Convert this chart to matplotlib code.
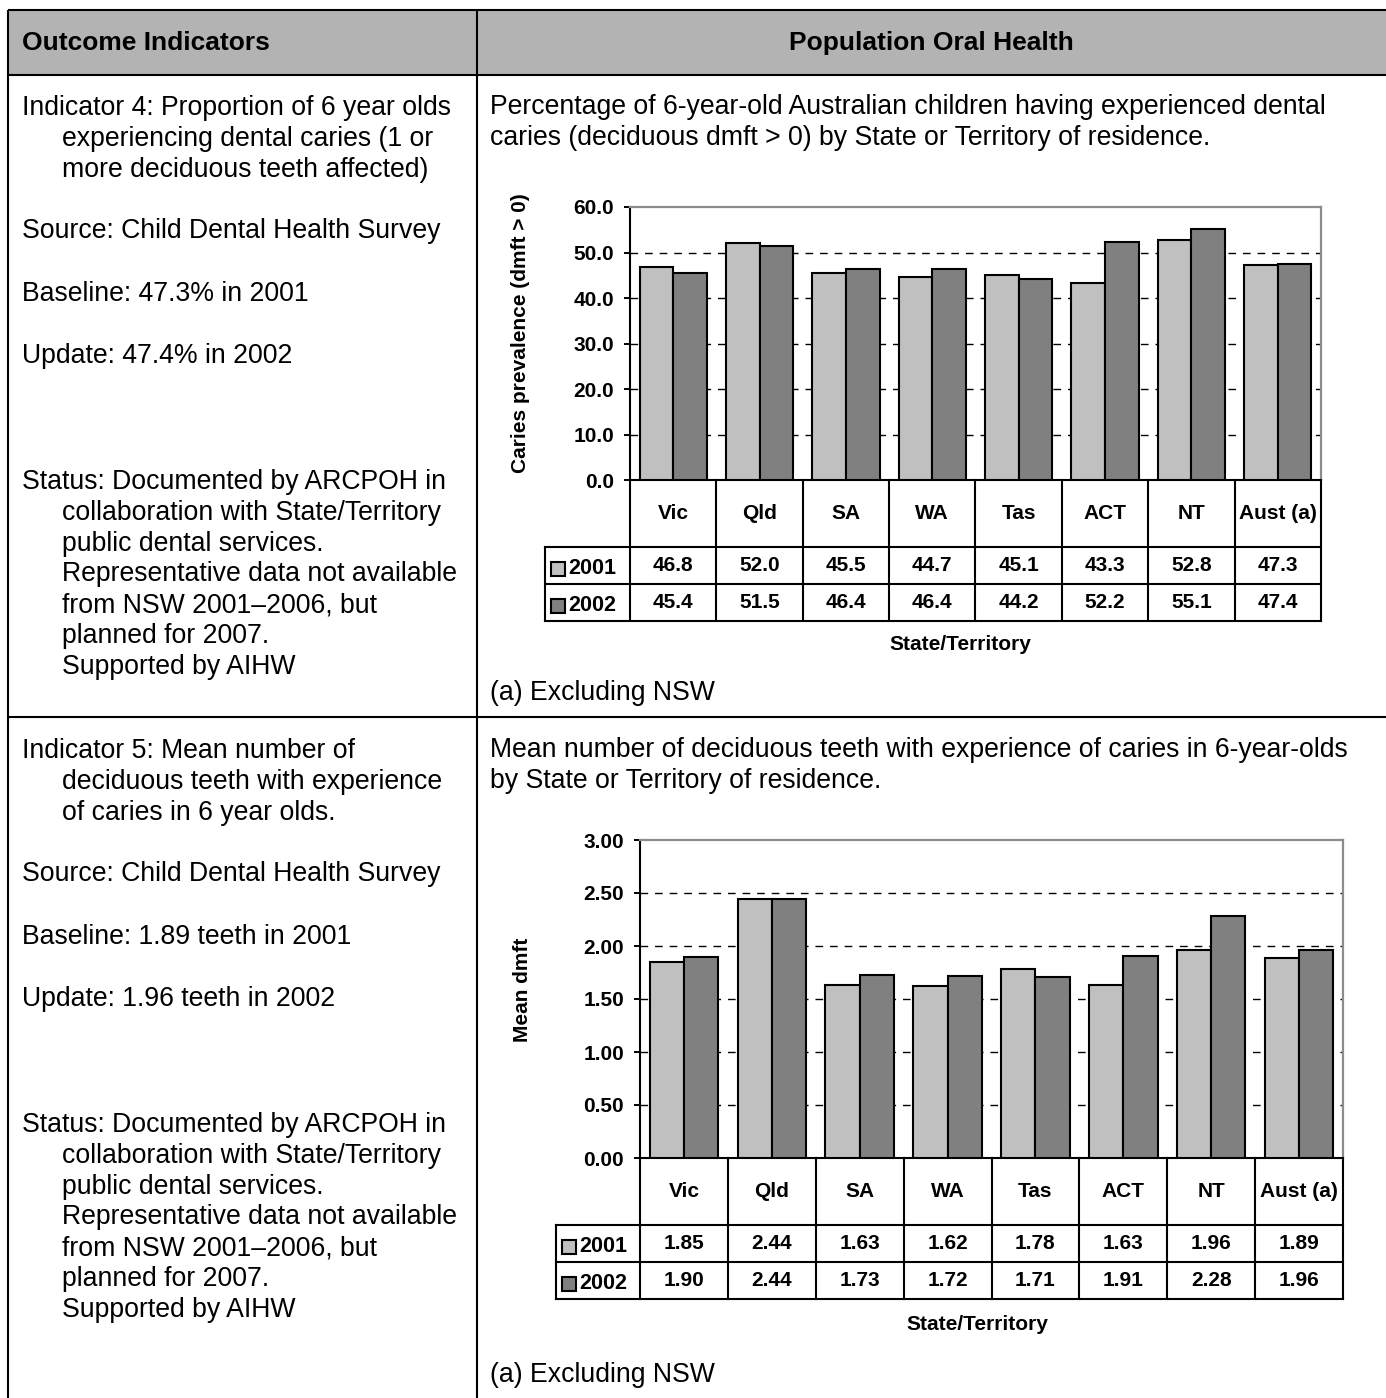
import numpy as np
import matplotlib
matplotlib.use("Agg")
import matplotlib.pyplot as plt
from matplotlib.patches import Rectangle
from matplotlib.ticker import FormatStrFormatter

# data
states = ["Vic", "Qld", "SA", "WA", "Tas", "ACT", "NT", "Aust (a)"]
years = ["2001", "2002"]
caries_2001 = [46.8, 52.0, 45.5, 44.7, 45.1, 43.3, 52.8, 47.3]
caries_2002 = [45.4, 51.5, 46.4, 46.4, 44.2, 52.2, 55.1, 47.4]
dmft_2001 = [1.85, 2.44, 1.63, 1.62, 1.78, 1.63, 1.96, 1.89]
dmft_2002 = [1.90, 2.44, 1.73, 1.72, 1.71, 1.91, 2.28, 1.96]

ind4_lines = [
    ["Indicator 4: Proportion of 6 year olds", "experiencing dental caries (1 or",
     "more deciduous teeth affected)"],
    ["Source: Child Dental Health Survey"],
    ["Baseline: 47.3% in 2001"],
    ["Update: 47.4% in 2002"],
    ["Status: Documented by ARCPOH in", "collaboration with State/Territory",
     "public dental services.", "Representative data not available",
     "from NSW 2001\u20132006, but", "planned for 2007.", "Supported by AIHW"],
]
ind5_lines = [
    ["Indicator 5: Mean number of", "deciduous teeth with experience",
     "of caries in 6 year olds."],
    ["Source: Child Dental Health Survey"],
    ["Baseline: 1.89 teeth in 2001"],
    ["Update: 1.96 teeth in 2002"],
    ["Status: Documented by ARCPOH in", "collaboration with State/Territory",
     "public dental services.", "Representative data not available",
     "from NSW 2001\u20132006, but", "planned for 2007.", "Supported by AIHW"],
]
caption1 = ["Percentage of 6-year-old Australian children having experienced dental",
            "caries (deciduous dmft > 0) by State or Territory of residence."]
caption2 = ["Mean number of deciduous teeth with experience of caries in 6-year-olds",
            "by State or Territory of residence."]
footnote = "(a) Excluding NSW"

LIGHT = "#c0c0c0"
DARK = "#808080"

plt.rcParams["font.family"] = ["Liberation Sans", "DejaVu Sans"]

W, H = 1386, 1398
fig = plt.figure(figsize=(W / 100, H / 100), dpi=100)

# background axes in pixel coordinates for the outer table
bg = fig.add_axes([0, 0, 1, 1], zorder=0)
bg.set_xlim(0, W)
bg.set_ylim(H, 0)
bg.axis("off")

LEFT, TOP, DIV = 8, 10, 477
bg.add_patch(Rectangle((LEFT, TOP), W - LEFT, 65, fc="#b3b3b3", ec="none"))
for yy in [TOP, 75, 717]:
    bg.plot([LEFT, W], [yy, yy], color="black", lw=1.5, solid_capstyle="butt")
for xx in [LEFT, DIV]:
    bg.plot([xx, xx], [TOP, H], color="black", lw=1.5, solid_capstyle="butt")

bg.text(22, 43, "Outcome Indicators", fontsize=19, fontweight="bold", va="center")
bg.text((DIV + W) / 2, 43, "Population Oral Health", fontsize=19,
        fontweight="bold", va="center", ha="center")

BODY = 19.2
STEP = 30.8


def left_text(paras, starts):
    for lines, y0 in zip(paras, starts):
        for k, line in enumerate(lines):
            bg.text(22 if k == 0 else 62, y0 + k * STEP, line, fontsize=BODY, va="center")


left_text(ind4_lines, [108, 231, 294, 356, 482])
left_text(ind5_lines, [751, 874, 937, 999, 1125])

for k, line in enumerate(caption1):
    bg.text(490, 107 + k * STEP, line, fontsize=BODY, va="center")
for k, line in enumerate(caption2):
    bg.text(490, 750 + k * STEP, line, fontsize=BODY, va="center")
bg.text(490, 693, footnote, fontsize=BODY, va="center")
bg.text(490, 1375, footnote, fontsize=BODY, va="center")


def chart(left, top, right, bottom, leg_left, v1, v2, ymax, ystep, fmt,
          ylabel, ylab_xy, xlab_xy):
    ax = fig.add_axes([left / W, 1 - bottom / H, (right - left) / W, (bottom - top) / H],
                      zorder=2)
    n = len(states)
    x = np.arange(n)
    bw = 0.39
    ax.bar(x - bw / 2, v1, bw, color=LIGHT, edgecolor="black", lw=1.5, zorder=3)
    ax.bar(x + bw / 2, v2, bw, color=DARK, edgecolor="black", lw=1.5, zorder=3)
    ax.set_xlim(-0.5, n - 0.5)
    ax.set_ylim(0, ymax)
    ticks = np.arange(0, ymax + ystep / 2, ystep)
    ax.set_yticks(ticks)
    ax.yaxis.set_major_formatter(FormatStrFormatter(fmt))
    ax.set_xticks([])
    for t in ticks[1:-1]:
        ax.axhline(t, color="black", lw=1.0, linestyle=(0, (5.5, 5)), zorder=1)
    ax.tick_params(axis="y", direction="out", length=4.5, width=1.4, labelsize=15, pad=7)
    for lbl in ax.get_yticklabels():
        lbl.set_fontweight("bold")
    for s in ["left", "bottom"]:
        ax.spines[s].set_color("black")
        ax.spines[s].set_linewidth(1.5)
    for s in ["top", "right"]:
        ax.spines[s].set_color("#8c8c8c")
        ax.spines[s].set_linewidth(1.6)

    # data table under the plot
    hpx = bottom - top
    colpx = (right - left) / n
    trans = ax.get_xaxis_transform()
    yf = lambda py: (bottom - py) / hpx
    cat_h, row_h = 67, 37
    y_cat = bottom + cat_h
    y_r1 = y_cat + row_h
    y_r2 = y_r1 + row_h
    xl = -0.5 + (leg_left - left) / colpx
    kw = dict(color="black", lw=1.5, transform=trans, clip_on=False,
              solid_capstyle="projecting")
    for k in range(n + 1):
        ax.plot([k - 0.5, k - 0.5], [0, yf(y_r2)], **kw)
    ax.plot([xl, xl], [yf(y_cat), yf(y_r2)], **kw)
    for yy in [y_cat, y_r1, y_r2]:
        ax.plot([xl, n - 0.5], [yf(yy), yf(yy)], **kw)
    tkw = dict(fontsize=15, fontweight="bold", transform=trans, clip_on=False,
               ha="center", va="center")
    for i, s in enumerate(states):
        ax.text(i, yf(bottom + cat_h / 2), s, **tkw)
        ax.text(i, yf(y_cat + row_h / 2), fmt % v1[i], **tkw)
        ax.text(i, yf(y_r1 + row_h / 2), fmt % v2[i], **tkw)
    for yr, col, yy in zip(years, [LIGHT, DARK], [y_cat, y_r1]):
        ax.plot([xl + 13 / colpx], [yf(yy + row_h / 2 + 3)], marker="s", ms=10.5,
                mfc=col, mec="black", mew=1.5, transform=trans, clip_on=False)
        ax.text(xl + 23 / colpx, yf(yy + row_h / 2 + 3), yr, fontsize=15.5,
                fontweight="bold", transform=trans, clip_on=False, va="center")

    bg.text(ylab_xy[0], ylab_xy[1], ylabel, fontsize=15, fontweight="bold",
            rotation=90, ha="center", va="center")
    bg.text(xlab_xy[0], xlab_xy[1], "State/Territory", fontsize=15,
            fontweight="bold", ha="center", va="center")
    return ax


chart(630, 207, 1321, 480, 545, caries_2001, caries_2002, 60, 10, "%.1f",
      "Caries prevalence (dmft > 0)", (520, 333), (960, 644))
chart(640, 840, 1343, 1158, 556, dmft_2001, dmft_2002, 3.0, 0.5, "%.2f",
      "Mean dmft", (522, 990), (977, 1324))

fig.savefig("out.png", dpi=100, facecolor="white")
